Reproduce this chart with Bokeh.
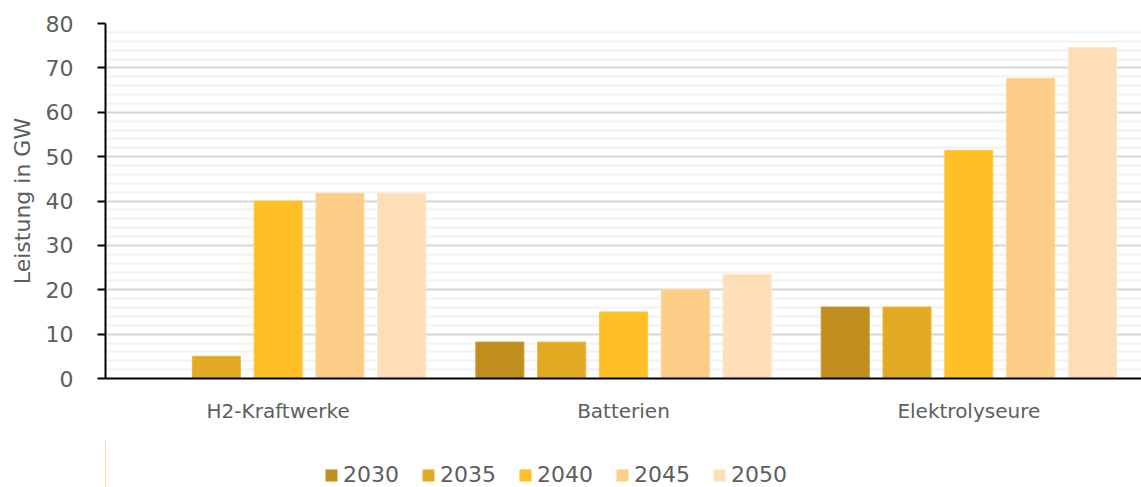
from bokeh.plotting import figure
from bokeh.models import ColumnDataSource, Legend, LegendItem, SingleIntervalTicker, Range1d
from bokeh.transform import dodge
from bokeh.layouts import column
from bokeh.embed import file_html
from bokeh.resources import INLINE

categories = ["H2-Kraftwerke", "Batterien", "Elektrolyseure"]
years = ["2030", "2035", "2040", "2045", "2050"]
v2030 = [0, 8.2, 16.1]
v2035 = [5, 8.2, 16.1]
v2040 = [40, 15, 51.4]
v2045 = [41.7, 20, 67.6]
v2050 = [41.7, 23.4, 74.6]
colors = ["#BF8E1E", "#E1AA22", "#FFBF27", "#FDCE88", "#FDDEB6"]
edges = ["#C99A2E", "#E8B53A", "#FFC83F", "#FED596", "#FEE4C2"]

src = ColumnDataSource(dict(cat=categories, y2030=v2030, y2035=v2035,
                            y2040=v2040, y2045=v2045, y2050=v2050))

TEXT = "#5b605e"
FONT = "DejaVu Sans"

p = figure(x_range=categories, y_range=Range1d(0, 80),
           frame_width=1036, frame_height=355,
           output_backend="svg", toolbar_location=None,
           min_border_left=105, min_border_right=0, min_border_top=23,
           min_border_bottom=62)
p.x_range.range_padding = 0
p.outline_line_color = None

offsets = [-0.358, -0.179, 0.0, 0.179, 0.358]
for yr, off, c, e in zip(years, offsets, colors, edges):
    p.vbar(x=dodge("cat", off, range=p.x_range), top="y" + yr, width=0.139,
           source=src, fill_color=c, line_color=e, line_width=1)

# y axis
p.yaxis.ticker = SingleIntervalTicker(interval=10, num_minor_ticks=5)
p.yaxis.axis_label = "Leistung in GW"
p.yaxis.axis_label_text_font = FONT
p.yaxis.axis_label_text_font_size = "22px"
p.yaxis.axis_label_text_font_style = "normal"
p.yaxis.axis_label_text_color = TEXT
p.yaxis.axis_label_standoff = 8
p.yaxis.major_label_text_font = FONT
p.yaxis.major_label_text_font_size = "22px"
p.yaxis.major_label_text_color = TEXT
p.yaxis.major_label_standoff = 24
p.yaxis.axis_line_color = "black"
p.yaxis.axis_line_width = 2
p.yaxis.major_tick_line_color = "black"
p.yaxis.major_tick_line_width = 2
p.yaxis.major_tick_out = 8
p.yaxis.major_tick_in = 0
p.yaxis.minor_tick_line_color = None

# x axis
p.xaxis.axis_line_color = "black"
p.xaxis.axis_line_width = 2
p.xaxis.major_tick_line_color = None
p.xaxis.minor_tick_line_color = None
p.xaxis.major_label_text_font = FONT
p.xaxis.major_label_text_font_size = "20px"
p.xaxis.major_label_text_color = TEXT
p.xaxis.major_label_standoff = 14

# grid
p.xgrid.grid_line_color = None
p.ygrid.grid_line_color = "#d9d9d9"
p.ygrid.grid_line_width = 2
p.ygrid.minor_grid_line_color = "#f2f2f2"
p.ygrid.minor_grid_line_width = 2

# legend strip (separate figure below the chart); its swatch renderers sit
# outside the visible range so only the legend entries show
leg = figure(width=1141, height=47, x_range=Range1d(0, 1), y_range=Range1d(0, 1),
             output_backend="svg", toolbar_location=None,
             x_axis_type=None, y_axis_type=None, min_border=0)
leg.outline_line_color = None
leg.xgrid.visible = False
leg.ygrid.visible = False
leg_renderers = []
for c, e in zip(colors, edges):
    r = leg.vbar(x=[-10], top=[1], width=1, fill_color=c, line_color=e, line_width=1)
    leg_renderers.append(r)

items = [LegendItem(label=yr, renderers=[r]) for yr, r in zip(years, leg_renderers)]
legend = Legend(items=items, orientation="horizontal", location=(219, 0),
                glyph_width=14, glyph_height=14, label_standoff=5, spacing=22,
                label_text_font=FONT, label_text_font_size="22px",
                label_text_color=TEXT, border_line_color=None,
                background_fill_alpha=0, padding=0, margin=0)
leg.add_layout(legend, "center")

open("out.html", "w").write(file_html(column(p, leg), INLINE))
